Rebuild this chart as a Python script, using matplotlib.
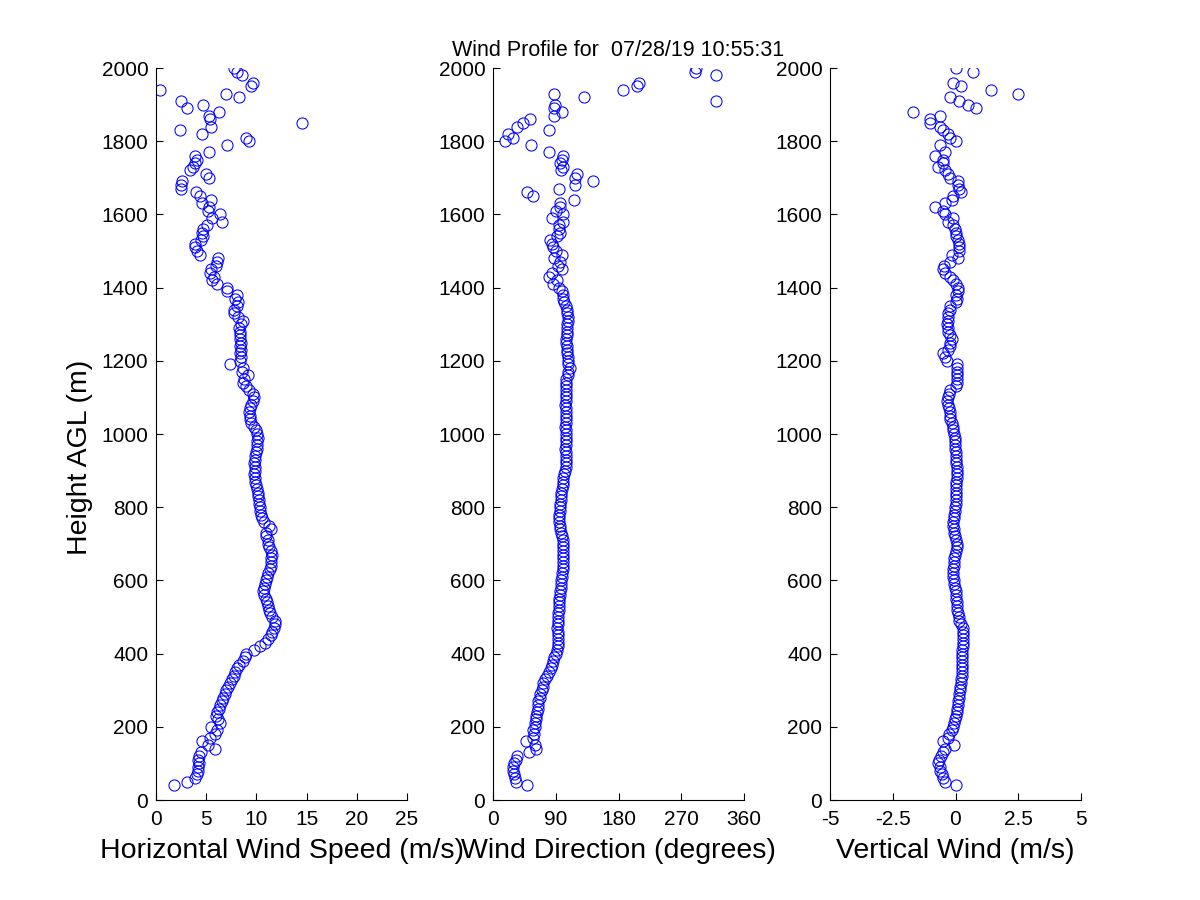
import numpy as np
import matplotlib
matplotlib.use('Agg')
import matplotlib.pyplot as plt

nan = np.nan

# Range gates (m AGL);
heights = [
    40, 50, 60, 70, 80, 90, 100, 110, 120, 130,
    140, 150, 160, 170, 180, 190, 200, 210, 220, 230,
    240, 250, 260, 270, 280, 290, 300, 310, 320, 330,
    340, 350, 360, 370, 380, 390, 400, 410, 420, 430,
    440, 450, 460, 470, 480, 490, 500, 510, 520, 530,
    540, 550, 560, 570, 580, 590, 600, 610, 620, 630,
    640, 650, 660, 670, 680, 690, 700, 710, 720, 730,
    740, 750, 760, 770, 780, 790, 800, 810, 820, 830,
    840, 850, 860, 870, 880, 890, 900, 910, 920, 930,
    940, 950, 960, 970, 980, 990, 1000, 1010, 1020, 1030,
    1040, 1050, 1060, 1070, 1080, 1090, 1100, 1110, 1120, 1130,
    1140, 1150, 1160, 1170, 1180, 1190, 1200, 1210, 1220, 1230,
    1240, 1250, 1260, 1270, 1280, 1290, 1300, 1310, 1320, 1330,
    1340, 1350, 1360, 1370, 1380, 1390, 1400, 1410, 1420, 1430,
    1440, 1450, 1460, 1470, 1480, 1490, 1500, 1510, 1520, 1530,
    1540, 1550, 1560, 1570, 1580, 1590, 1600, 1610, 1620, 1630,
    1640, 1650, 1660, 1670, 1680, 1690, 1700, 1710, 1720, 1730,
    1740, 1750, 1760, 1770, 1780, 1790, 1800, 1810, 1820, 1830,
    1840, 1850, 1860, 1870, 1880, 1890, 1900, 1910, 1920, 1930,
    1940, 1950, 1960, 1970, 1980, 1990, 2000,
]

# Horizontal wind speed (m/s);
speed = [
    1.8, 3.1, 3.9, 4.1, 4.2, 4.2, 4.3, 4.2, 4.3, 4.5,
    5.9, 5.2, 4.6, 5.4, 5.9, 6.1, 5.5, 6.4, 6.2, 6.0,
    6.1, 6.3, 6.4, 6.6, 6.7, 6.9, 7.0, 7.2, 7.4, 7.6,
    7.8, 7.9, 8.1, 8.3, 8.7, 8.9, 9.0, 9.8, 10.4, 10.9,
    11.2, 11.5, 11.6, 11.8, 11.9, 11.9, 11.6, 11.4, 11.3, 11.2,
    11.1, 11.0, 10.8, 10.7, 10.8, 10.9, 11.0, 11.1, 11.2, 11.4,
    11.5, 11.5, 11.5, 11.6, 11.5, 11.3, 11.2, 11.2, 11.0, 11.0,
    11.5, 11.3, 10.8, 10.6, 10.5, 10.4, 10.4, 10.3, 10.3, 10.2,
    10.2, 10.1, 10.0, 9.9, 9.9, 9.8, 9.9, 9.9, 9.8, 9.9,
    9.9, 10.0, 10.1, 10.1, 10.1, 10.2, 10.1, 10.0, 9.8, 9.5,
    9.4, 9.4, 9.3, 9.4, 9.5, 9.7, 9.8, 9.7, 9.3, 9.0,
    8.7, 8.8, 9.2, 8.6, 8.7, 7.4, 8.4, 8.5, 8.4, 8.5,
    8.4, 8.5, 8.4, 8.4, 8.4, 8.3, 8.5, 8.7, 8.2, 7.8,
    7.8, 8.1, 8.2, 7.9, 8.1, 7.1, 7.1, 6.1, 5.6, 5.8,
    5.4, 5.5, 6.0, 6.1, 6.2, 4.4, 4.1, 3.9, 3.9, 4.5,
    4.7, 4.6, 4.7, 5.1, 6.6, 5.6, 6.4, 5.2, 5.3, 4.6,
    5.5, 4.4, 4.0, 2.5, 2.5, 2.6, 5.3, 5.0, 3.4, 3.7,
    3.9, 4.1, 3.9, 5.3, nan, 7.1, 9.3, 9.0, 4.6, 2.4,
    5.5, 14.5, 5.4, 5.3, 6.3, 3.1, 4.7, 2.5, 8.3, 7.0,
    0.4, 9.5, 9.7, nan, 8.6, 8.1, 7.8,
]

# Wind direction (degrees);
direction = [
    49, 33, 32, 30, 29, 29, 30, 33, 35, 51,
    62, 60, 48, 58, 59, 58, 60, 60, 61, 62,
    63, 64, 65, 65, 67, 68, 70, 71, 72, 75,
    77, 81, 83, 85, 86, 88, 90, 92, 93, 93,
    93, 93, 93, 92, 93, 93, 93, 93, 94, 94,
    94, 95, 96, 96, 97, 98, 98, 99, 99, 100,
    101, 101, 101, 101, 101, 101, 101, 100, 99, 97,
    96, 96, 95, 95, 95, 96, 96, 96, 97, 98,
    98, 99, 100, 100, 101, 102, 103, 104, 104, 104,
    105, 104, 103, 104, 104, 105, 104, 104, 103, 104,
    104, 105, 104, 104, 103, 104, 104, 105, 104, 104,
    105, 105, 107, 108, 111, 107, 107, 107, 106, 106,
    106, 105, 104, 106, 106, 106, 106, 107, 107, 106,
    106, 105, 102, 101, 100, 99, 95, 86, 92, 81,
    84, 99, 93, 96, 88, 99, 90, 86, 84, 82,
    92, 96, 95, 94, 100, 84, 100, 91, 96, 96,
    116, 58, 49, 94, 117, 144, 117, 120, 98, 101,
    96, 99, 100, 81, nan, 55, 17, 29, 22, 81,
    35, 43, 53, 88, 99, 88, 89, 320, 131, 88,
    187, 207, 209, nan, 320, 290, 291,
]

# Vertical wind (m/s);
vertical = [
    0.0, -0.4, -0.5, -0.55, -0.6, -0.62, -0.68, -0.64, -0.58, -0.51,
    -0.4, -0.05, -0.48, -0.3, -0.25, -0.12, -0.08, -0.05, -0.02, 0.0,
    0.04, 0.06, 0.1, 0.11, 0.13, 0.15, 0.17, 0.18, 0.2, 0.22,
    0.24, 0.25, 0.25, 0.26, 0.25, 0.25, 0.26, 0.27, 0.28, 0.29,
    0.29, 0.3, 0.29, 0.28, 0.22, 0.15, 0.12, 0.08, 0.06, 0.05,
    0.04, 0.03, 0.02, 0.0, -0.02, -0.04, -0.05, -0.08, -0.11, -0.1,
    -0.07, -0.05, -0.04, -0.02, 0.02, 0.07, 0.05, 0.0, -0.02, -0.04,
    -0.07, -0.09, -0.08, -0.07, -0.05, -0.03, -0.01, 0.01, 0.02, 0.02,
    0.03, 0.03, 0.02, 0.03, 0.04, 0.05, 0.05, 0.04, 0.03, 0.02,
    0.01, 0.0, -0.02, -0.02, -0.02, -0.03, -0.05, -0.08, -0.1, -0.15,
    -0.2, -0.22, -0.23, -0.25, -0.28, -0.32, -0.3, -0.26, -0.22, 0.0,
    0.07, 0.06, 0.05, 0.04, 0.05, 0.05, -0.32, -0.4, -0.48, -0.3,
    -0.2, -0.2, -0.15, -0.2, -0.28, -0.3, -0.33, -0.3, -0.3, -0.28,
    -0.2, -0.2, 0.0, 0.05, 0.0, 0.08, 0.1, 0.0, -0.1, -0.2,
    -0.4, -0.5, -0.45, -0.2, 0.1, -0.15, 0.12, 0.15, 0.12, 0.08,
    0.03, 0.0, -0.02, -0.1, -0.3, -0.1, -0.4, -0.5, -0.8, -0.4,
    -0.15, -0.1, 0.2, 0.15, 0.1, 0.1, -0.2, -0.3, -0.4, -0.7,
    -0.5, -0.5, -0.8, -0.4, nan, -0.6, 0.0, -0.2, -0.3, -0.5,
    -0.6, -1.0, -1.0, -0.6, -1.7, 0.8, 0.5, 0.15, -0.2, 2.5,
    1.4, 0.2, -0.1, nan, nan, 0.7, 0.0,
]

title = 'Wind Profile for  07/28/19 10:55:31'

panels = [
    (speed, 'Horizontal Wind Speed (m/s)', (0, 25), [0, 5, 10, 15, 20, 25],
     ['0', '5', '10', '15', '20', '25']),
    (direction, 'Wind Direction (degrees)', (0, 360), [0, 90, 180, 270, 360],
     ['0', '90', '180', '270', '360']),
    (vertical, 'Vertical Wind (m/s)', (-5, 5), [-5, -2.5, 0, 2.5, 5],
     ['-5', '-2.5', '0', '2.5', '5']),
]
lefts = [156, 493, 830]

plt.rcParams['font.family'] = ['Liberation Sans', 'DejaVu Sans']

fig = plt.figure(figsize=(12, 9), dpi=100, facecolor='white')

axes = []
for left, (values, label, xlim, xticks, xticklabels) in zip(lefts, panels):
    ax = fig.add_axes([left / 1200, 100 / 900, 251 / 1200, 732 / 900])
    ax.plot(values, heights, 'o', linestyle='none', markerfacecolor='none',
            markeredgecolor=(0, 0, 1), markeredgewidth=0.75, markersize=8)
    ax.set_xlim(*xlim)
    ax.set_ylim(0, 2000)
    ax.set_xticks(xticks)
    ax.set_xticklabels(xticklabels)
    ax.set_yticks(range(0, 2001, 200))
    ax.spines['top'].set_visible(False)
    ax.spines['right'].set_visible(False)
    for side in ('left', 'bottom'):
        ax.spines[side].set_linewidth(0.8)
    ax.tick_params(direction='in', length=5, width=0.8, labelsize=15)
    ax.tick_params(axis='x', pad=7.5)
    ax.tick_params(axis='y', pad=5.5)
    ax.set_xlabel(label, fontsize=20.5, labelpad=6.5)
    axes.append(ax)

axes[0].set_ylabel('Height AGL (m)', fontsize=20.5)
axes[0].yaxis.set_label_coords(-0.252, 0.4686)
axes[1].set_title(title, fontsize=15.5, pad=8.4)

fig.savefig('out.png', dpi=100, facecolor='white')
